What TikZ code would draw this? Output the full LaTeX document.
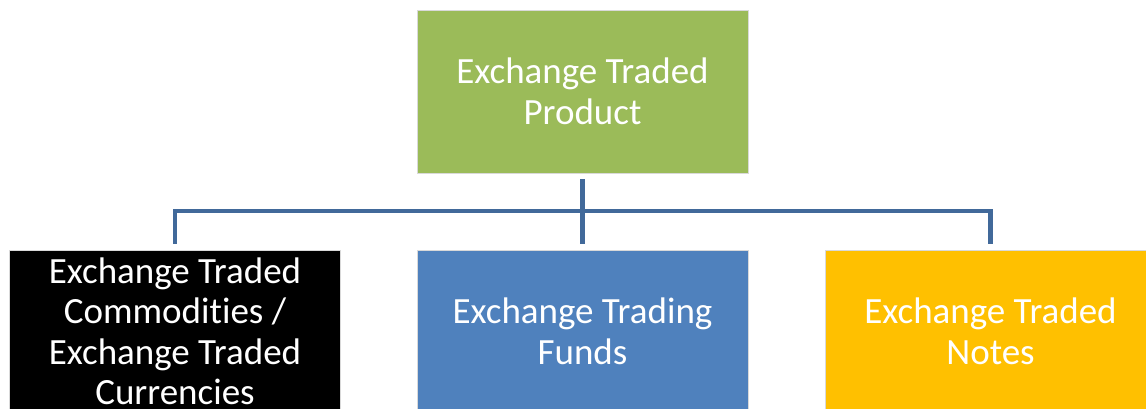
\documentclass[tikz,border=0pt]{standalone}
\usepackage{fontspec}
\setmainfont[Ligatures=NoCommon]{Carlito}
\definecolor{topgreen}{HTML}{9BBB59}
\definecolor{midblue}{HTML}{4F81BD}
\definecolor{goldyellow}{HTML}{FFC000}
\definecolor{linkblue}{HTML}{41699A}
\begin{document}
\begin{tikzpicture}[x=1pt,y=-1pt,
  box/.style={minimum width=331pt, minimum height=163pt, inner sep=0pt, text=white, align=center,
    draw=white!85!black, line width=0.6pt, font=\fontsize{37}{40.5}\selectfont},
  conn/.style={draw=linkblue, line width=4.5pt}]
\useasboundingbox (0,0) rectangle (1146,409);
\node[box, fill=topgreen] (top) at (582.5,91.5) {Exchange Traded\\Product};
\node[box, fill=black] (etc) at (175,331.5) {Exchange Traded\\Commodities /\\Exchange Traded\\Currencies};
\node[box, fill=midblue] (etf) at (582.5,331.5) {Exchange Trading\\Funds};
\node[box, fill=goldyellow] (etn) at (990.5,331.5) {Exchange Traded\\Notes};
\coordinate (mid) at (582.5,211);
\draw[conn, shorten <=6pt, shorten >=6pt] (top.south) -- (etf.north);
\draw[conn, shorten >=6pt] (mid) -| (etc.north);
\draw[conn, shorten >=6pt] (mid) -| (etn.north);
\end{tikzpicture}
\end{document}
